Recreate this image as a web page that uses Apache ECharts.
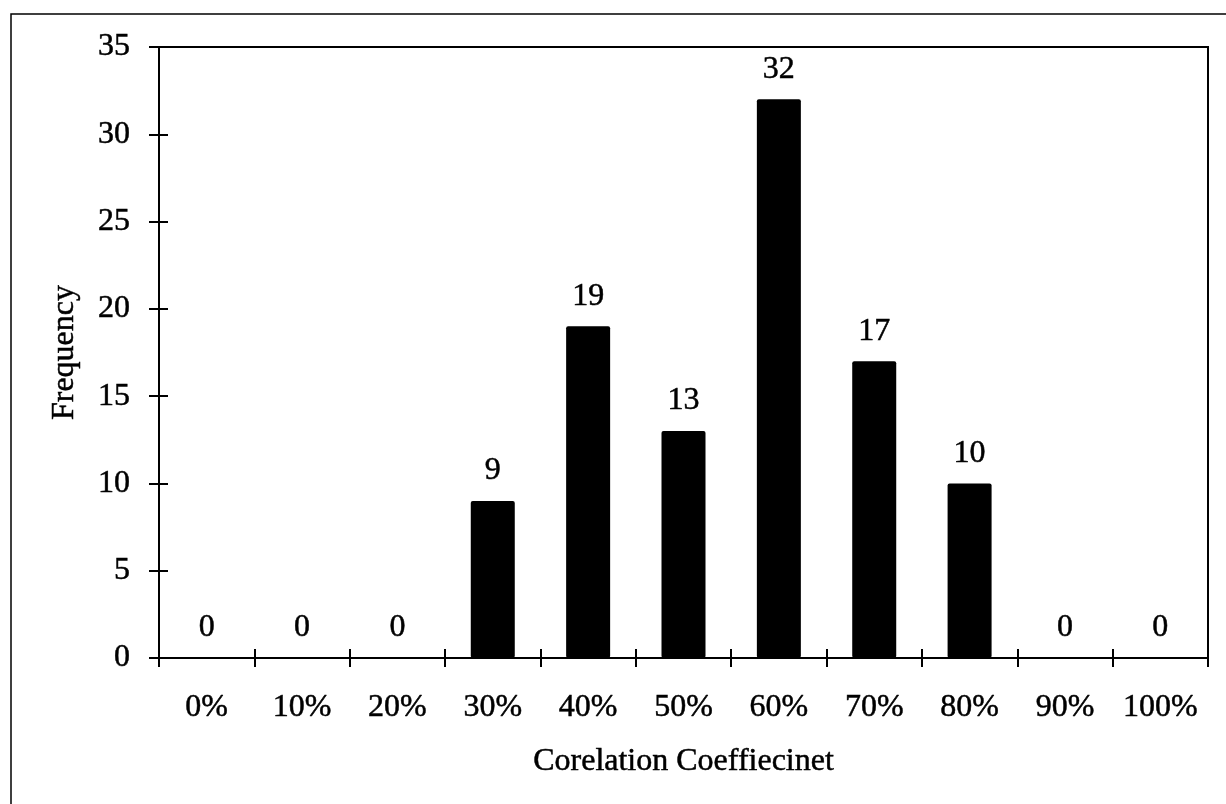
<!DOCTYPE html>
<html>
<head>
<meta charset="utf-8">
<title>Frequency by Correlation Coefficient</title>
<script src="https://cdn.jsdelivr.net/npm/echarts@6/dist/echarts.min.js"></script>
<style>
  html, body { margin: 0; padding: 0; background: #fff; }
  #chart { width: 1226px; height: 804px; }
</style>
</head>
<body>
<div id="chart"></div>
<script>
// Histogram bins and their counts
const categories = ['0%', '10%', '20%', '30%', '40%', '50%', '60%', '70%', '80%', '90%', '100%'];
const frequency = [0, 0, 0, 9, 19, 13, 32, 17, 10, 0, 0];
const yTicks = { min: 0, max: 35, interval: 5 };
const xTitle = 'Corelation Coeffiecinet';
const yTitle = 'Frequency';

const FONT = '"Liberation Serif", "Times New Roman", serif';
const INK = '#000';
// slightly heavier glyphs, like a printed page
const textInk = () => ({ color: INK, fontFamily: FONT, fontSize: 32, textBorderColor: INK, textBorderWidth: 0.5 });

const chart = echarts.init(document.getElementById('chart'), null, { renderer: 'canvas' });

chart.setOption({
  animation: false,
  graphic: [{
    type: 'rect',
    shape: { x: 11, y: 14, width: 1240, height: 820 },
    style: { fill: 'none', stroke: INK, lineWidth: 1.5 },
    silent: true,
    z: 0
  }],
  grid: {
    left: 159, top: 47, width: 1049, height: 611,
    show: true, borderColor: INK, borderWidth: 2
  },
  // Ticks cross the axis line: the main axis draws the outer half, a twin draws the inner half
  xAxis: [{
    type: 'category',
    data: categories,
    position: 'bottom',
    name: xTitle,
    nameLocation: 'middle',
    nameGap: 88,
    nameTextStyle: textInk(),
    axisLine: { show: true, lineStyle: { color: INK, width: 2 } },
    axisTick: { show: true, inside: false, length: 9, lineStyle: { color: INK, width: 2 } },
    axisLabel: Object.assign({ interval: 0, margin: 34 }, textInk())
  }, {
    type: 'category',
    data: categories,
    position: 'bottom',
    axisLine: { show: true, lineStyle: { color: INK, width: 2 } },
    axisTick: { show: true, inside: true, interval: 0, length: 9, lineStyle: { color: INK, width: 2 } },
    axisLabel: { show: false, interval: 0 }
  }],
  yAxis: [{
    type: 'value',
    min: yTicks.min,
    max: yTicks.max,
    interval: yTicks.interval,
    position: 'left',
    name: yTitle,
    nameLocation: 'middle',
    nameGap: 78,
    nameRotate: 90,
    nameTextStyle: textInk(),
    splitLine: { show: false },
    axisLine: { show: true, lineStyle: { color: INK, width: 2 } },
    axisTick: { show: true, inside: false, length: 10, lineStyle: { color: INK, width: 2 } },
    axisLabel: Object.assign({ margin: 29 }, textInk())
  }, {
    type: 'value',
    min: yTicks.min,
    max: yTicks.max,
    interval: yTicks.interval,
    position: 'left',
    splitLine: { show: false },
    axisLine: { show: true, lineStyle: { color: INK, width: 2 } },
    axisTick: { show: true, inside: true, length: 9, lineStyle: { color: INK, width: 2 } },
    axisLabel: { show: false }
  }],
  series: [{
    type: 'bar',
    data: frequency,
    xAxisIndex: 0,
    yAxisIndex: 0,
    barWidth: 44,
    itemStyle: { color: INK, borderRadius: 2 },
    label: Object.assign({ show: true, position: 'top', distance: 14 }, textInk())
  }]
});
</script>
</body>
</html>
